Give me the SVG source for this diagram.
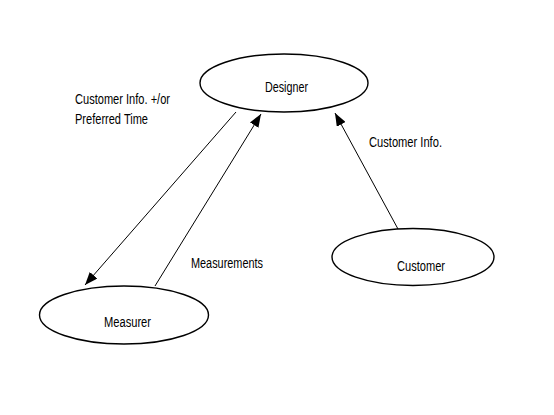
<svg xmlns="http://www.w3.org/2000/svg" width="554" height="415" viewBox="0 0 554 415">
<defs>
<style>
.node ellipse{fill:#fff;stroke:#000;stroke-width:1.4}
.lbl{font-family:"Liberation Sans",Arial,sans-serif;font-size:14px;fill:#000}
.edge{stroke:#000;stroke-width:1;fill:none;marker-end:url(#ah)}
</style>
<marker id="ah" markerUnits="userSpaceOnUse" markerWidth="14" markerHeight="10" refX="13" refY="5" orient="auto">
<path d="M0,0 L13,5 L0,10 Z" fill="#000"/>
</marker>
</defs>
<rect width="554" height="415" fill="#fff"/>
<g id="connectors">
<line class="edge" x1="236" y1="112" x2="85" y2="285"/>
<line class="edge" x1="155" y1="286" x2="261" y2="114"/>
<line class="edge" x1="398" y1="229" x2="335" y2="113"/>
</g>
<g id="designer" class="node">
<ellipse cx="284" cy="83" rx="84" ry="29"/>
<text class="lbl" x="265" y="92" textLength="43" lengthAdjust="spacingAndGlyphs">Designer</text>
</g>
<g id="customer" class="node">
<ellipse cx="413" cy="257" rx="81" ry="28.5"/>
<text class="lbl" x="397" y="271" textLength="48" lengthAdjust="spacingAndGlyphs">Customer</text>
</g>
<g id="measurer" class="node">
<ellipse cx="124" cy="315" rx="84.5" ry="29"/>
<text class="lbl" x="104" y="327" textLength="47" lengthAdjust="spacingAndGlyphs">Measurer</text>
</g>
<g id="labels">
<text class="lbl" x="75" y="104" textLength="95" lengthAdjust="spacingAndGlyphs">Customer Info. +/or</text>
<text class="lbl" x="75" y="124" textLength="73" lengthAdjust="spacingAndGlyphs">Preferred Time</text>
<text class="lbl" x="369" y="147" textLength="73" lengthAdjust="spacingAndGlyphs">Customer Info.</text>
<text class="lbl" x="191" y="268" textLength="72" lengthAdjust="spacingAndGlyphs">Measurements</text>
</g>
</svg>
